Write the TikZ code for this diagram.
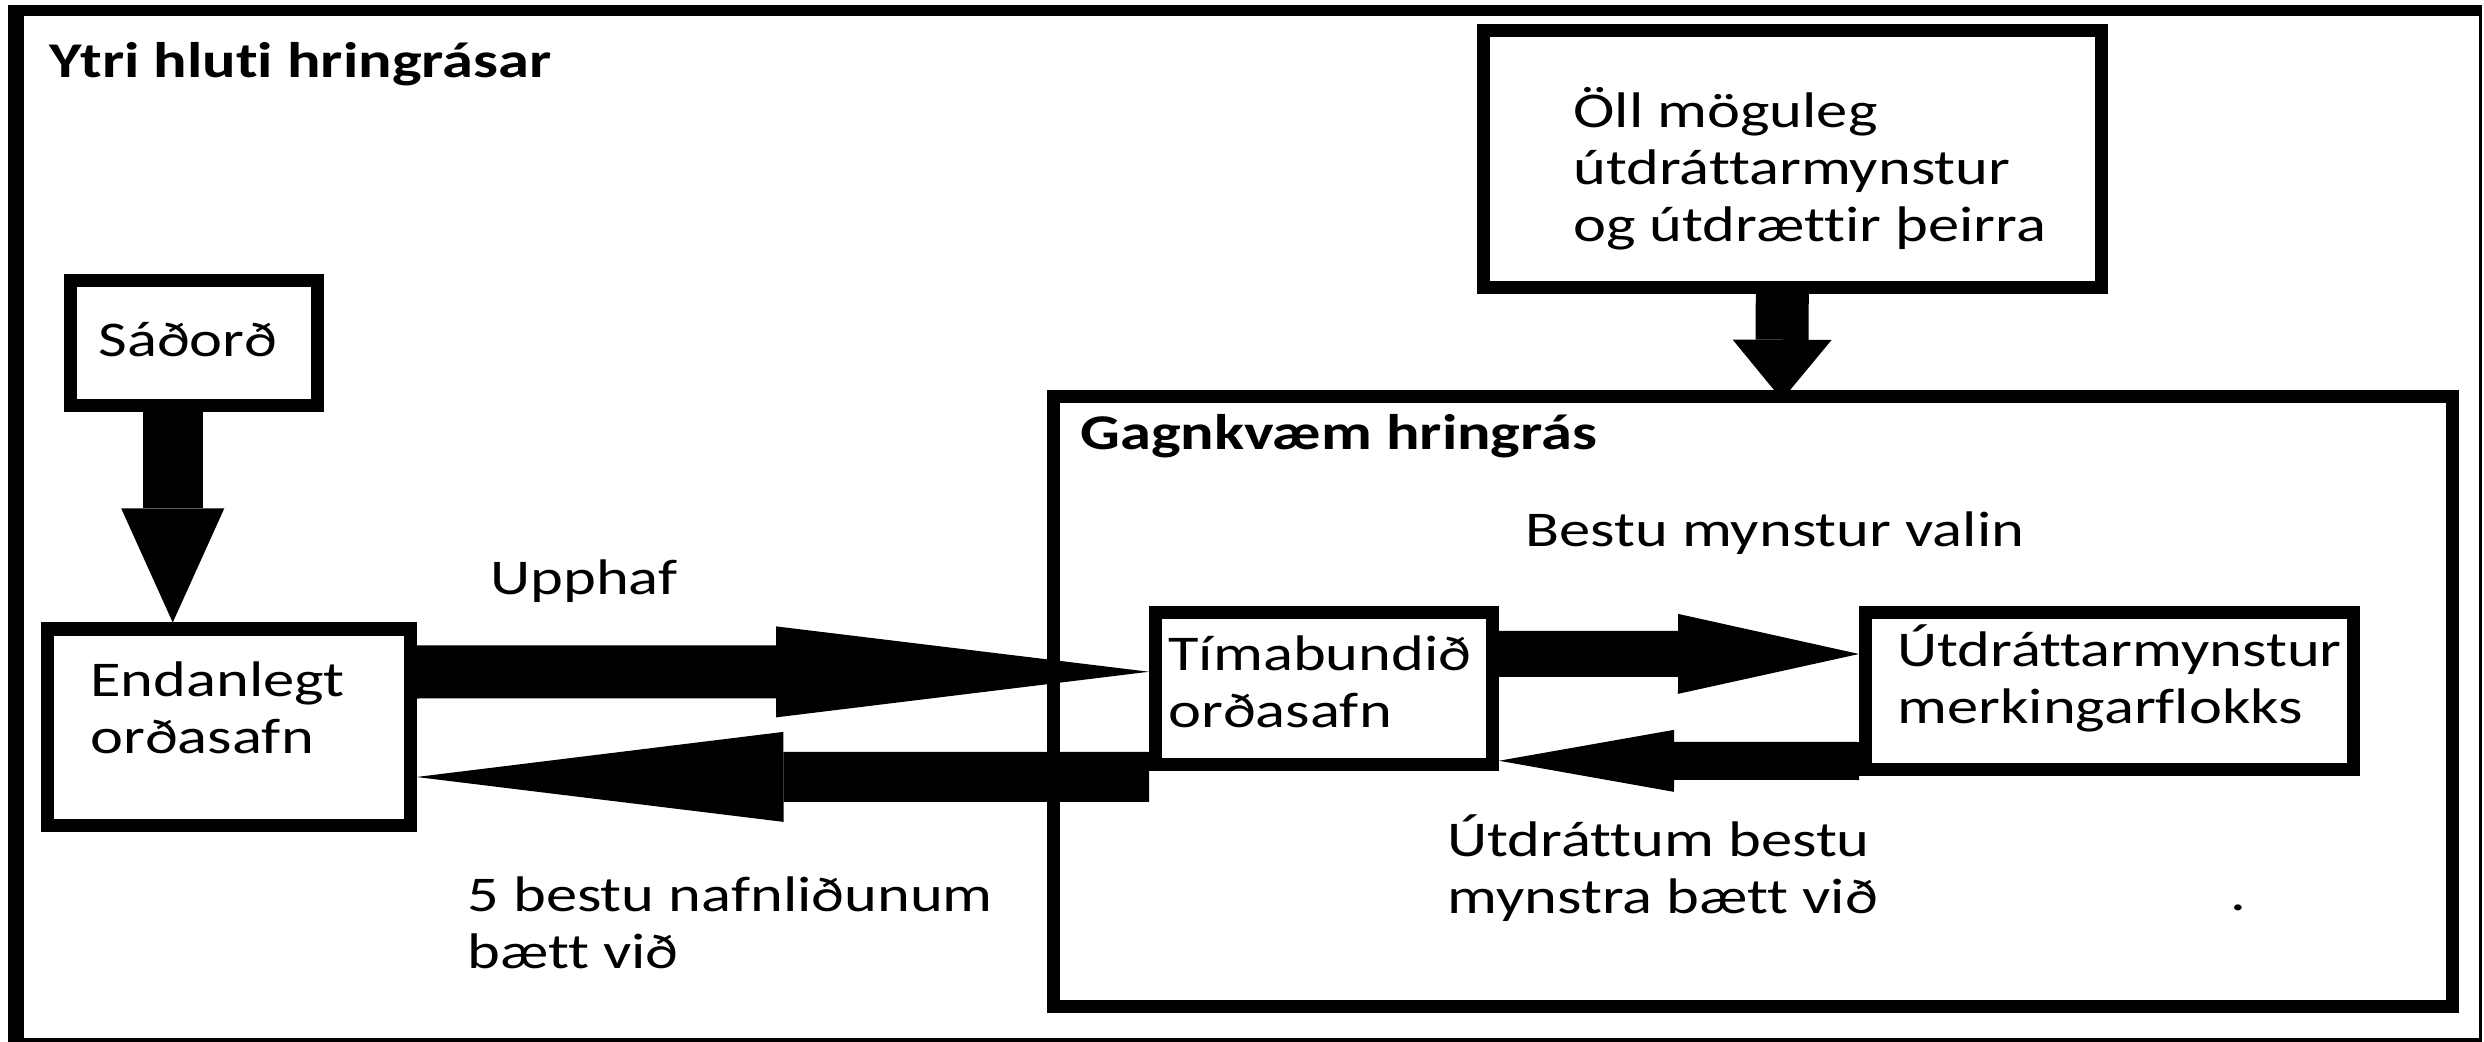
\documentclass[tikz,border=0pt]{standalone}
\usepackage{fontspec}
\setmainfont{Carlito}[FakeStretch=1.25,Ligatures=NoCommon]
\usetikzlibrary{arrows.meta,calc}
\begin{document}
\begin{tikzpicture}[x=0.5pt,y=-0.5pt,
  box/.style={draw=black,line width=6.5pt,inner sep=0pt,rectangle},
  txt/.style={anchor=base west,inner sep=0pt,align=left,
    font=\fontsize{25pt}{28.5pt}\selectfont},
  btxt/.style={txt,font=\fontsize{25pt}{28.5pt}\selectfont\bfseries},
  fat/.style n args={3}{draw=black,line width=#1,
    -{Triangle[length=#3,width=#2,line width=0pt]}}
]
\useasboundingbox (0,0) rectangle (2484,1042);
% outer frame
\fill[black] (8,5) rectangle (24,1042);
\fill[black] (8,5) rectangle (2482,16);
\fill[black] (2479,5) rectangle (2482,1042);
\fill[black] (8,1038) rectangle (2482,1042);
% boxes
\node[box,minimum width=123.25pt,minimum height=62.5pt] (sad) at (193.75,343.5) {};
\node[box,minimum width=181.25pt,minimum height=98pt] (endb) at (228.75,727) {};
\node[box,minimum width=308.75pt,minimum height=128.5pt] (oll) at (1792.25,159) {};
\node[box,minimum width=699.75pt,minimum height=304.75pt] (gag) at (1752.75,701.25) {};
\node[box,minimum width=168.5pt,minimum height=75.75pt] (tim) at (1324,688.75) {};
\node[box,minimum width=243.75pt,minimum height=78pt] (utd) at (2109.25,691) {};
% texts (base anchor = baseline of the last line)
\node[btxt] (ytri) at (49,78) {Ytri hluti hringrásar};
\node[txt] (sadt) at (98,357) {Sáðorð};
\node[txt] (endt) at (90,753) {Endanlegt\\orðasafn};
\node[txt] (upph) at (490,595) {Upphaf};
\node[txt] (best5) at (467,968) {5 bestu nafnliðunum\\bætt við};
\node[btxt] (gagt) at (1080,450) {Gagnkvæm hringrás};
\node[txt] (valin) at (1525,547) {Bestu mynstur valin};
\node[txt] (ollt) at (1573,242) {Öll möguleg\\útdráttarmynstur\\og útdrættir þeirra};
\node[txt] (timt) at (1168,727) {Tímabundið\\orðasafn};
\node[txt] (utdt) at (1897,723) {Útdráttarmynstur\\merkingarflokks};
\node[txt] (bbt) at (1447,913) {Útdráttum bestu\\mynstra bætt við};
\node[txt] (dot) at (2230,910) {.};
% arrows
\draw[fat={30pt}{51.5pt}{57pt}] ($(sad.south)+(-21,0)$) -- ($(endb.north)+(-56,0)$);
\draw[fat={26.5pt}{49.5pt}{30pt}] ($(oll.south)+(-10,0)$) -- ($(gag.north)+(29.25,9.75)$);
\draw[fat={26.5pt}{45.5pt}{186.5pt}] ($(endb.east)+(0,-55)$) -- ($(tim.west)+(0,-17)$);
\draw[fat={25pt}{45pt}{183.5pt}] ($(tim.west)+(0,88)$) -- ($(endb.east)+(0,50)$);
\draw[fat={23pt}{40pt}{90.5pt}] ($(tim.east)+(0,-35)$) -- ($(utd.west)+(0,-37)$);
\draw[fat={19pt}{31pt}{87.5pt}] ($(utd.west)+(0,70)$) -- ($(tim.east)+(0,72)$);
\end{tikzpicture}
\end{document}
